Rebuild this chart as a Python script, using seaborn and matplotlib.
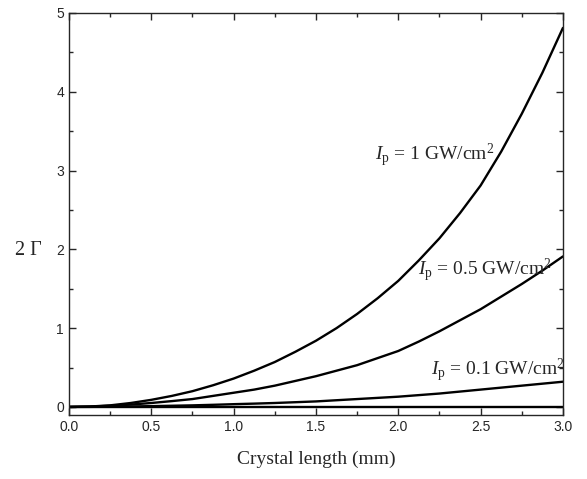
import numpy as np
import pandas as pd
import matplotlib
matplotlib.use("Agg")
import matplotlib.pyplot as plt
import seaborn as sns
from matplotlib.ticker import MultipleLocator, FormatStrFormatter

# data
length_mm = [0.0, 0.125, 0.25, 0.375, 0.5, 0.625, 0.75, 0.875, 1.0, 1.125, 1.25, 1.375,
             1.5, 1.625, 1.75, 1.875, 2.0, 2.125, 2.25, 2.375, 2.5, 2.625, 2.75, 2.875, 3.0]
gain_ip_1 = [0.0, 0.005, 0.02, 0.05, 0.09, 0.14, 0.20, 0.275, 0.36, 0.46, 0.57, 0.70,
             0.84, 1.00, 1.18, 1.38, 1.60, 1.86, 2.14, 2.46, 2.81, 3.24, 3.72, 4.24, 4.81]
gain_ip_05 = [0.0, 0.004, 0.015, 0.03, 0.05, 0.074, 0.10, 0.14, 0.18, 0.22, 0.27, 0.33,
              0.39, 0.46, 0.53, 0.62, 0.71, 0.83, 0.96, 1.10, 1.24, 1.40, 1.56, 1.73, 1.91]
gain_ip_01 = [0.0, 0.001, 0.003, 0.006, 0.01, 0.015, 0.02, 0.027, 0.035, 0.042, 0.05, 0.06,
              0.07, 0.085, 0.10, 0.115, 0.13, 0.15, 0.17, 0.195, 0.22, 0.245, 0.27, 0.295, 0.32]
gain_zero = [0.0] * len(length_mm)

series_names = ["Ip=1", "Ip=0.5", "Ip=0.1", "zero"]
series_vals = [gain_ip_1, gain_ip_05, gain_ip_01, gain_zero]

labels = [r"$I_{\mathrm{p}}$ = 1 GW/cm$^2$",
          r"$I_{\mathrm{p}}$ = 0.5 GW/cm$^2$",
          r"$I_{\mathrm{p}}$ = 0.1 GW/cm$^2$"]

rows = []
for name, vals in zip(series_names, series_vals):
    for x, y in zip(length_mm, vals):
        rows.append({"x": x, "y": y, "series": name})
df = pd.DataFrame(rows)

sns.set_style("ticks")
plt.rcParams["font.family"] = ["Liberation Sans", "DejaVu Sans"]
plt.rcParams["mathtext.fontset"] = "custom"
plt.rcParams["mathtext.rm"] = "Liberation Serif"
plt.rcParams["mathtext.it"] = "Liberation Serif:italic"

fig = plt.figure(figsize=(5.87, 4.79), dpi=100)
ax = fig.add_axes([0.1175, 0.134, 0.8415, 0.839])

sns.lineplot(data=df, x="x", y="y", hue="series", palette=["black"] * 4,
             linewidth=1.7, legend=False, ax=ax, estimator=None, sort=True)

ax.set_xlim(0, 3.0)
ax.set_ylim(-0.1, 5)
ax.xaxis.set_major_locator(MultipleLocator(0.5))
ax.xaxis.set_minor_locator(MultipleLocator(0.25))
ax.yaxis.set_major_locator(MultipleLocator(1))
ax.yaxis.set_minor_locator(MultipleLocator(0.5))
ax.xaxis.set_major_formatter(FormatStrFormatter("%.1f"))
ax.yaxis.set_major_formatter(FormatStrFormatter("%d"))
ax.tick_params(which="both", direction="in", top=True, right=True, width=1, labelsize=10)
ax.tick_params(which="major", length=5)
ax.tick_params(which="minor", length=3)
for s in ax.spines.values():
    s.set_linewidth(1.0)

serif = ["Liberation Serif", "DejaVu Serif"]
ax.set_xlabel("Crystal length (mm)", fontsize=14, family=serif, labelpad=12)
ax.set_ylabel("2 Γ", fontsize=14.5, family=serif, rotation=0, va="center", ha="center")
ax.yaxis.set_label_coords(-0.083, 0.408)

text_pos = [(1.86, 3.13), (2.12, 1.67), (2.2, 0.40)]
for (tx, ty), lab in zip(text_pos, labels):
    ax.text(tx, ty, lab, fontsize=14, ha="left", va="baseline", family=serif)

fig.savefig("out.png", dpi=100)
